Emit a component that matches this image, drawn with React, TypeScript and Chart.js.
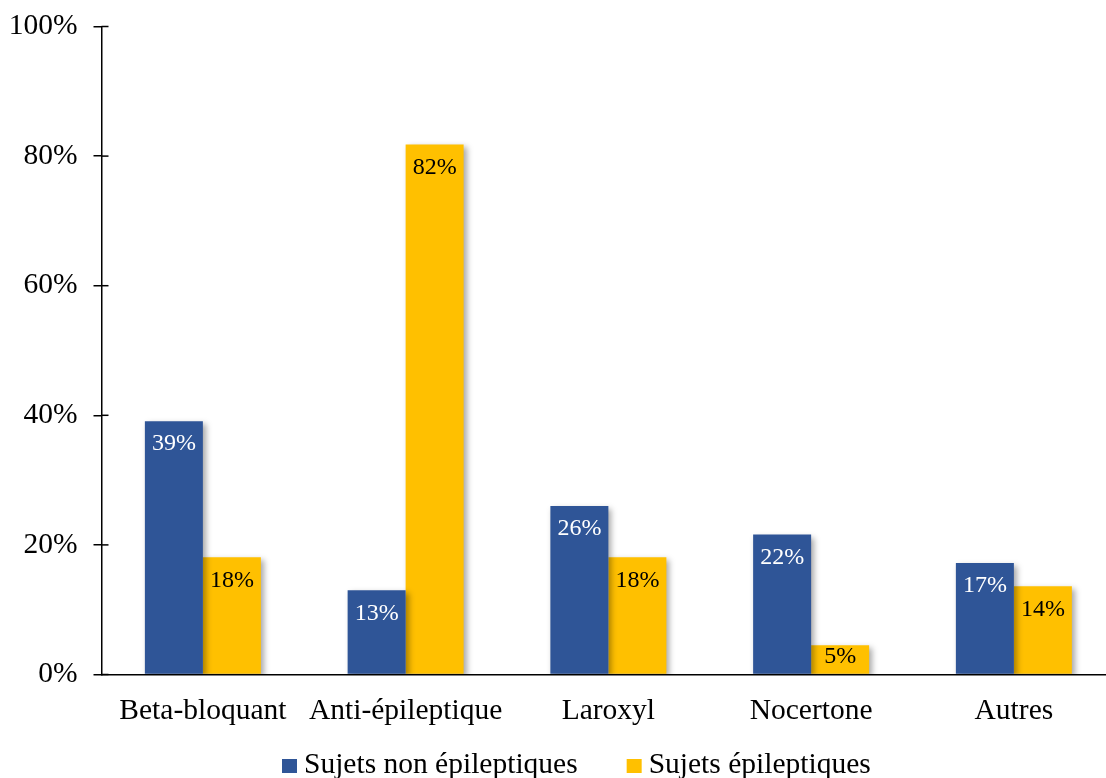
import React, { useEffect, useRef } from "react";
import { Chart, registerables } from "chart.js";

Chart.register(...registerables);

const categories = ["Beta-bloquant", "Anti-épileptique", "Laroxyl", "Nocertone", "Autres"];
const nonEpileptiques = [39.1, 13.0, 26.0, 21.6, 17.2];
const epileptiques = [18.1, 81.8, 18.1, 4.5, 13.6];
const seriesNames = ["Sujets non épileptiques", "Sujets épileptiques"];
const yTicks = [0, 20, 40, 60, 80, 100];

const BLUE = "#2F5597";
const YELLOW = "#FFC000";
const FONT = '"Liberation Serif", "Times New Roman", serif';
const FS = 29.5;

const shadowPlugin = {
  id: "barShadow",
  beforeDatasetsDraw(chart: any) {
    const ctx = chart.ctx;
    ctx.save();
    ctx.shadowColor = "rgba(0,0,0,0.35)";
    ctx.shadowBlur = 6;
    ctx.shadowOffsetX = 3;
    ctx.shadowOffsetY = 3;
  },
  afterDatasetsDraw(chart: any) {
    chart.ctx.restore();
  },
};

const overlayPlugin = {
  id: "overlay",
  afterDraw(chart: any) {
    const ctx = chart.ctx;
    const y = chart.scales.y;
    const area = chart.chartArea;
    ctx.save();
    ctx.strokeStyle = "#000";
    ctx.lineWidth = 1.5;
    yTicks.forEach((v) => {
      const py = y.getPixelForValue(v);
      ctx.beginPath();
      ctx.moveTo(area.left, py);
      ctx.lineTo(area.left + 7, py);
      ctx.stroke();
    });
    ctx.font = `24px ${FONT}`;
    ctx.textAlign = "center";
    ctx.textBaseline = "middle";
    chart.data.datasets.forEach((ds: any, di: number) => {
      const meta = chart.getDatasetMeta(di);
      meta.data.forEach((bar: any, i: number) => {
        const top = bar.y;
        const base = bar.base;
        let cy = top + 23;
        const mid = (top + base) / 2 - 3;
        if (cy > mid) cy = mid;
        ctx.fillStyle = di === 0 ? "#ffffff" : "#000000";
        ctx.fillText(Math.round(ds.data[i]) + "%", bar.x, cy);
      });
    });
    ctx.font = `${FS}px ${FONT}`;
    ctx.textAlign = "left";
    ctx.textBaseline = "alphabetic";
    let x = 282;
    const baseline = 773;
    chart.data.datasets.forEach((ds: any) => {
      ctx.fillStyle = ds.backgroundColor;
      ctx.fillRect(x, baseline - 14, 15, 14);
      ctx.fillStyle = "#000";
      ctx.fillText(ds.label, x + 22, baseline);
      x += 22 + ctx.measureText(ds.label).width + 49;
    });
    ctx.restore();
  },
};

export default function App() {
  const ref = useRef<HTMLCanvasElement>(null);
  useEffect(() => {
    if (!ref.current) return;
    const chart = new Chart(ref.current, {
      type: "bar",
      data: {
        labels: categories,
        datasets: [
          { label: seriesNames[0], data: nonEpileptiques, backgroundColor: BLUE },
          { label: seriesNames[1], data: epileptiques, backgroundColor: YELLOW },
        ],
      },
      options: {
        animation: false,
        responsive: false,
        maintainAspectRatio: false,
        datasets: { bar: { categoryPercentage: 116 / 202.75, barPercentage: 1 } },
        layout: { padding: { top: 26.5, right: 14.75, left: 0, bottom: 0 } },
        plugins: { legend: { display: false }, tooltip: { enabled: false } },
        scales: {
          x: {
            grid: { display: false, drawTicks: false },
            border: { display: true, color: "#000", width: 1.5 },
            ticks: { color: "#000", font: { family: FONT, size: FS }, padding: 19, maxRotation: 0 },
            afterFit(scale: any) {
              scale.height = 103.5;
            },
          },
          y: {
            min: 0,
            max: 100,
            afterBuildTicks(scale: any) {
              scale.ticks = yTicks.map((v) => ({ value: v }));
            },
            grid: { drawOnChartArea: false, drawTicks: true, tickLength: 8, color: "#000", lineWidth: 1.5 },
            border: { display: true, color: "#000", width: 1.5 },
            ticks: {
              color: "#000",
              font: { family: FONT, size: FS },
              padding: 16,
              callback: (v: any) => v + "%",
            },
            afterFit(scale: any) {
              scale.width = 101.5;
              scale.paddingTop = 0;
              scale.paddingBottom = 0;
            },
          },
        },
      },
      plugins: [shadowPlugin, overlayPlugin],
    });
    return () => chart.destroy();
  }, []);
  return (
    <div style={{ position: "fixed", left: 0, top: 0, width: 1106, height: 778, overflow: "hidden", background: "#fff" }}>
      <canvas ref={ref} width={1130} height={778} style={{ width: 1130, height: 778, display: "block" }} />
    </div>
  );
}
